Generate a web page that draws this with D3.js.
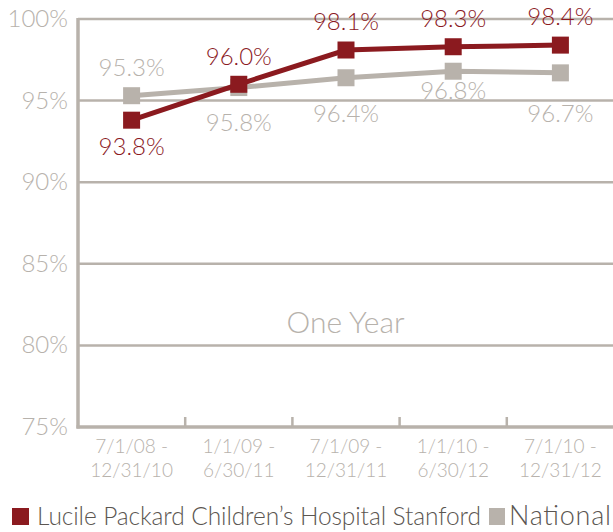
<!DOCTYPE html>
<html>
<head>
<meta charset="utf-8">
<script src="https://cdn.jsdelivr.net/npm/d3@7"></script>
<style>
  body { margin: 0; background: #fff; }
  text { font-family: Lato, "Open Sans", sans-serif; font-weight: 300; }
</style>
</head>
<body>
<div id="chart"></div>
<script>
const periods = [
  ["7/1/08 -", "12/31/10"],
  ["1/1/09 -", "6/30/11"],
  ["7/1/09 -", "12/31/11"],
  ["1/1/10 -", "6/30/12"],
  ["7/1/10 -", "12/31/12"]
];
const lpchValues = [93.8, 96.0, 98.1, 98.3, 98.4];
const nationalValues = [95.3, 95.8, 96.4, 96.8, 96.7];
const yTicks = [75, 80, 85, 90, 95, 100];
const seriesNames = ["Lucile Packard Children\u2019s Hospital Stanford", "National"];

const width = 613, height = 532;
const margin = { top: 19, right: 0, bottom: 105, left: 78 };
const red = "#8b1a1f", gray = "#b8b2ab", textGray = "#b7b2ac";

const svg = d3.select("#chart").append("svg")
  .attr("width", width)
  .attr("height", height);

const x = d3.scaleBand()
  .domain(d3.range(periods.length))
  .range([margin.left, width - margin.right + 1]);

const y = d3.scaleLinear()
  .domain([75, 100])
  .range([height - margin.bottom, margin.top]);

const cx = i => x(i) + x.bandwidth() / 2;

// grid lines
svg.append("g")
  .selectAll("line")
  .data(yTicks.filter(t => t > 75))
  .join("line")
  .attr("x1", margin.left).attr("x2", width)
  .attr("y1", d => y(d)).attr("y2", d => y(d))
  .attr("stroke", gray).attr("stroke-width", 2.5);

// y labels
svg.append("g")
  .selectAll("text")
  .data(yTicks)
  .join("text")
  .attr("x", 68)
  .attr("y", d => y(d) + 8)
  .attr("text-anchor", "end")
  .attr("font-size", 24)
  .attr("fill", textGray)
  .text(d => d + "%");

// axes
svg.append("line")
  .attr("x1", margin.left).attr("x2", margin.left)
  .attr("y1", y(100) - 1).attr("y2", y(75) + 1.5)
  .attr("stroke", gray).attr("stroke-width", 3.5);
svg.append("line")
  .attr("x1", margin.left - 1.5).attr("x2", width)
  .attr("y1", y(75)).attr("y2", y(75))
  .attr("stroke", gray).attr("stroke-width", 3.5);

// x ticks
svg.append("g")
  .selectAll("line")
  .data(d3.range(1, periods.length))
  .join("line")
  .attr("x1", d => x(d)).attr("x2", d => x(d))
  .attr("y1", y(75)).attr("y2", y(75) - 10)
  .attr("stroke", gray).attr("stroke-width", 2.5);

// x labels
const xl = svg.append("g")
  .selectAll("text")
  .data(periods)
  .join("text")
  .attr("text-anchor", "middle")
  .attr("font-size", 19)
  .attr("fill", textGray);
xl.append("tspan").attr("x", (d, i) => cx(i)).attr("y", 453).text(d => d[0]);
xl.append("tspan").attr("x", (d, i) => cx(i)).attr("y", 477).text(d => d[1]);

// "One Year"
svg.append("text")
  .attr("x", (margin.left + width) / 2)
  .attr("y", 333)
  .attr("text-anchor", "middle")
  .attr("font-size", 30)
  .attr("fill", textGray)
  .text("One Year");

const line = d3.line().x((d, i) => cx(i)).y(d => y(d));

function drawSeries(values, color, labelDy) {
  svg.append("path")
    .datum(values)
    .attr("d", line)
    .attr("fill", "none")
    .attr("stroke", color)
    .attr("stroke-width", 5);
  svg.append("g")
    .selectAll("rect")
    .data(values)
    .join("rect")
    .attr("x", (d, i) => cx(i) - 8.5)
    .attr("y", d => y(d) - 8.5)
    .attr("width", 17).attr("height", 17)
    .attr("fill", color);
  svg.append("g")
    .selectAll("text")
    .data(values)
    .join("text")
    .attr("x", (d, i) => cx(i))
    .attr("y", (d, i) => y(d) + labelDy[i])
    .attr("text-anchor", "middle")
    .attr("font-size", 24)
    .attr("fill", color === red ? red : textGray)
    .text(d => d.toFixed(1) + "%");
}

drawSeries(nationalValues, gray, [-20, 43, 44, 28, 49]);
drawSeries(lpchValues, red, [35, -19, -20, -20, -20]);

// legend
const legend = svg.append("g");
legend.append("rect").attr("x", 12).attr("y", 508).attr("width", 17).attr("height", 17).attr("fill", red);
legend.append("text").attr("x", 37).attr("y", 525).attr("font-size", 24.5)
  .attr("textLength", 444).attr("fill", "#5b5651").text(seriesNames[0]);
legend.append("rect").attr("x", 489).attr("y", 508).attr("width", 16).attr("height", 17).attr("fill", gray);
legend.append("text").attr("x", 509).attr("y", 525).attr("font-size", 27)
  .attr("textLength", 102).attr("fill", "#5b5651").text(seriesNames[1]);
</script>
</body>
</html>
